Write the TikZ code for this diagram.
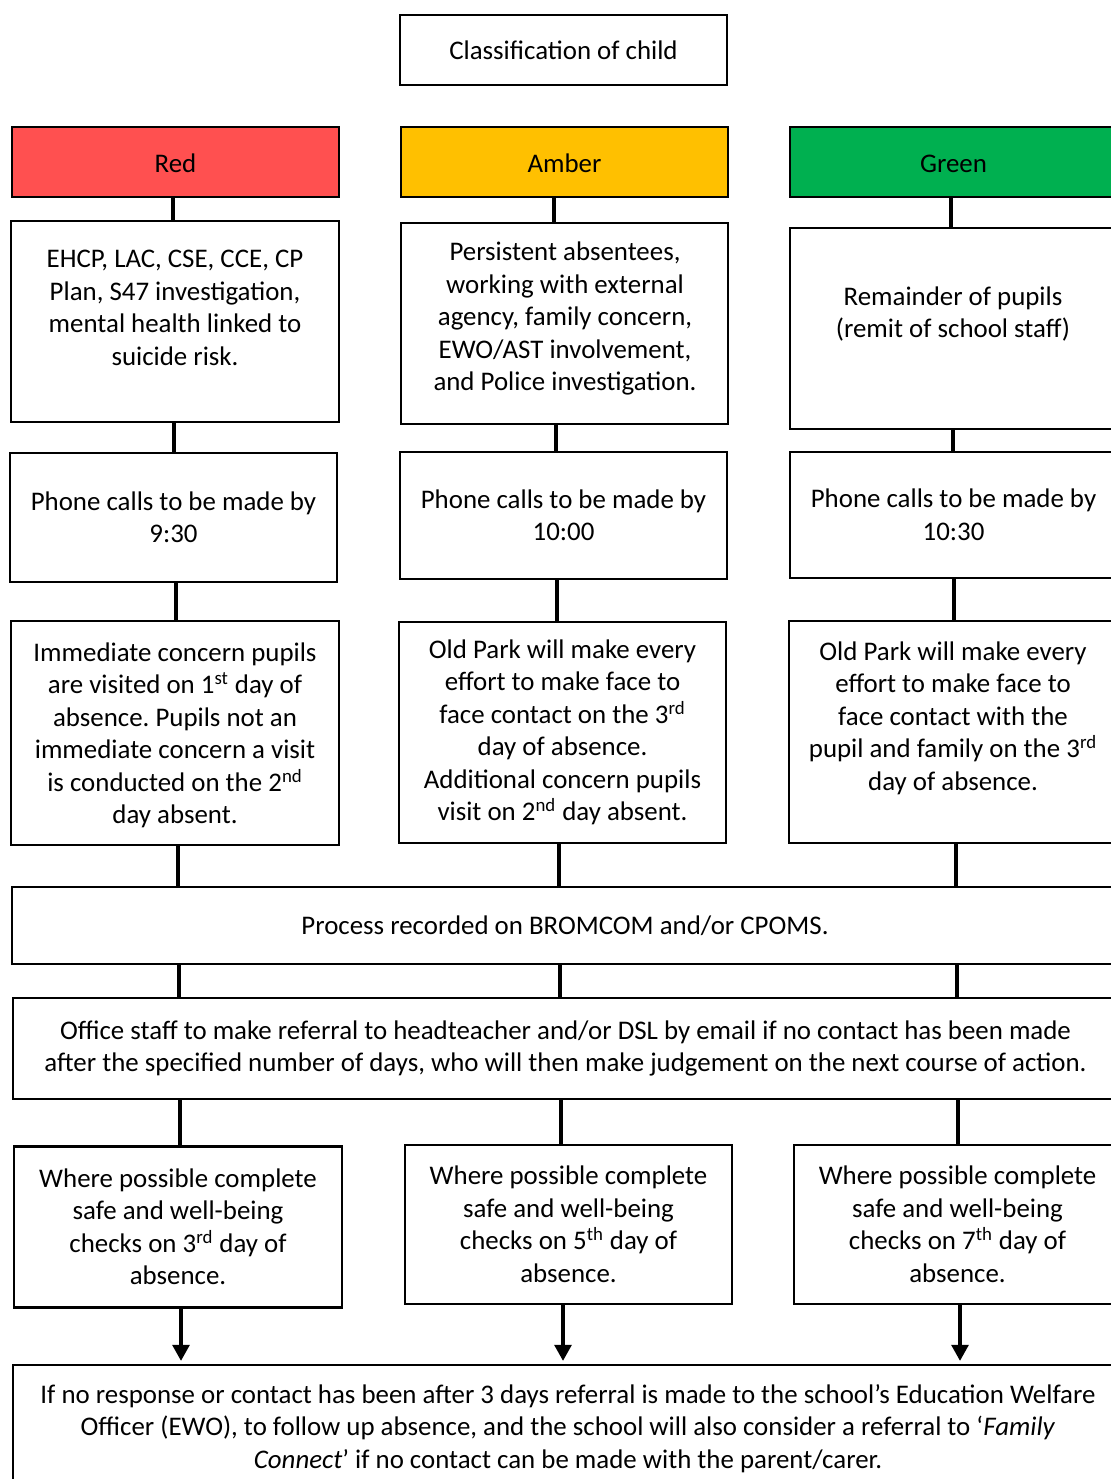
\documentclass[tikz,border=0pt]{standalone}
\usepackage{fontspec}
\setmainfont{Carlito}
\usetikzlibrary{arrows.meta}
\definecolor{redfill}{HTML}{FF5050}
\definecolor{amberfill}{HTML}{FFC000}
\definecolor{greenfill}{HTML}{00B050}
\newcommand{\pxu}{0.02cm}
\frenchspacing
\tikzset{
 box/.style={draw, line width=1.6pt, inner sep=0pt},
 txt/.style={align=center, inner sep=0pt, font=\fontsize{15.3pt}{18.5pt}\selectfont},
 link/.style={line width=1.9pt},
 arr/.style={line width=2.2pt, -{Triangle[length=0.32cm,width=0.33cm]}, shorten >=1.5pt},
}
\begin{document}
\begin{tikzpicture}[x=0.02cm, y=-0.02cm]
\useasboundingbox (0,0) rectangle (1110,1479);
\node[box, txt, minimum width=327*\pxu, minimum height=70*\pxu] (top) at (563.5,50) {Classification of child};

% colour headers
\foreach \x/\name/\col in {175.5/Red/redfill, 564.5/Amber/amberfill, 953.5/Green/greenfill}{
 \node[box, txt, fill=\col, minimum width=327*\pxu, minimum height=70*\pxu, text height=12.5pt] (h\name) at (\x,162) {\name};
}

% criteria
\node[box, minimum width=328*\pxu, minimum height=201*\pxu] (crRed) at (175,321.5) {};
\node[txt] (crRedt) at (175,308) {EHCP, LAC, CSE, CCE, CP\\Plan, S47 investigation,\\mental health linked to\\suicide risk.};
\node[box, minimum width=327*\pxu, minimum height=201*\pxu] (crAmber) at (564.5,323.5) {};
\node[txt] (crAmbert) at (565,318.5) {Persistent absentees,\\working with external\\agency, family concern,\\EWO/AST involvement,\\and Police investigation.};
\node[box, minimum width=327*\pxu, minimum height=201*\pxu] (crGreen) at (953.5,328.5) {};
\node[txt] (crGreent) at (953,314) {Remainder of pupils\\(remit of school staff)};

% phone calls
\node[box, txt, minimum width=327*\pxu, minimum height=129*\pxu] (phRed) at (173.5,517.5) {Phone calls to be made by\\9:30};
\node[box, txt, minimum width=327*\pxu, minimum height=127*\pxu] (phAmber) at (563.5,515.5) {Phone calls to be made by\\10:00};
\node[box, txt, minimum width=327*\pxu, minimum height=126*\pxu] (phGreen) at (953.5,515) {Phone calls to be made by\\10:30};

% visits
\node[box, minimum width=328*\pxu, minimum height=224*\pxu] (vsRed) at (175,733) {};
\node[txt] (vsRedt) at (175,735.5) {Immediate concern pupils\\are visited on 1\textsuperscript{st} day of\\absence. Pupils not an\\immediate concern a visit\\is conducted on the 2\textsuperscript{nd}\\day absent.};
\node[box, txt, minimum width=327*\pxu, minimum height=221*\pxu] (vsAmber) at (562.5,732.5) {Old Park will make every\\effort to make face to\\face contact on the 3\textsuperscript{rd}\\day of absence.\\Additional concern pupils\\visit on 2\textsuperscript{nd} day absent.};
\node[box, minimum width=327*\pxu, minimum height=222*\pxu] (vsGreen) at (952.5,732) {};
\node[txt] (vsGreent) at (953,718) {Old Park will make every\\effort to make face to\\face contact with the\\pupil and family on the 3\textsuperscript{rd}\\day of absence.};

% full width boxes
\node[box, txt, minimum width=1106*\pxu, minimum height=77*\pxu] (proc) at (565,925.5) {Process recorded on BROMCOM and/or CPOMS.};
\node[box, txt, minimum width=1105*\pxu, minimum height=101*\pxu] (office) at (565.5,1048.5) {Office staff to make referral to headteacher and/or DSL by email if no contact has been made\\after the specified number of days, who will then make judgement on the next course of action.};

% checks
\node[box, txt, minimum width=328*\pxu, minimum height=161*\pxu] (ckRed) at (178,1227) {Where possible complete\\safe and well-being\\checks on 3\textsuperscript{rd} day of\\absence.};
\node[box, txt, minimum width=327*\pxu, minimum height=159*\pxu] (ckAmber) at (568.5,1224.5) {Where possible complete\\safe and well-being\\checks on 5\textsuperscript{th} day of\\absence.};
\node[box, txt, minimum width=327*\pxu, minimum height=159*\pxu] (ckGreen) at (957.5,1224.5) {Where possible complete\\safe and well-being\\checks on 7\textsuperscript{th} day of\\absence.};

\node[box, minimum width=1110*\pxu, minimum height=165*\pxu] (final) at (568,1447.5) {};
\node[txt] (finalt) at (568,1428.5) {If no response or contact has been after 3 days referral is made to the school’s Education Welfare\\Officer (EWO), to follow up absence, and the school will also consider a referral to ‘\textit{Family}\\\textit{Connect}’ if no contact can be made with the parent/carer.};

% connectors, one x per level
\foreach \c/\xa/\xb/\xc/\xd/\xe/\xf/\xg in {Red/173/174/176/178/179/180/181, Amber/554/556/557/559/560/561/563, Green/951/953/954/956/957/958/960}{
 \draw[link] (h\c.south -| \xa,0) -- (cr\c.north -| \xa,0);
 \draw[link] (cr\c.south -| \xb,0) -- (ph\c.north -| \xb,0);
 \draw[link] (ph\c.south -| \xc,0) -- (vs\c.north -| \xc,0);
 \draw[link] (vs\c.south -| \xd,0) -- (proc.north -| \xd,0);
 \draw[link] (proc.south -| \xe,0) -- (office.north -| \xe,0);
 \draw[link] (office.south -| \xf,0) -- (ck\c.north -| \xf,0);
 \draw[arr] (ck\c.south -| \xg,0) -- (final.north -| \xg,0);
}
\end{tikzpicture}
\end{document}
